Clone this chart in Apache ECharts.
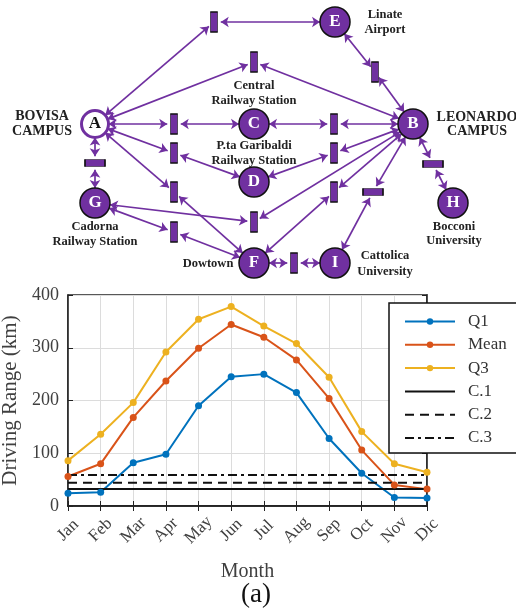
<!DOCTYPE html>
<html><head><meta charset="utf-8">
<script src="https://cdn.jsdelivr.net/npm/echarts@6/dist/echarts.min.js"></script>
<style>html,body{margin:0;padding:0;background:#fff}#c{width:516px;height:612px}</style>
</head><body><div id="c"></div>
<script>
// ---------- line chart data ----------
const months = ['Jan','Feb','Mar','Apr','May','Jun','Jul','Aug','Sep','Oct','Nov','Dic'];
const q1   = [24, 26, 82, 98, 190, 245, 250, 215, 128, 62, 16, 15];
const mean = [56, 80, 168, 237, 299, 344, 320, 277, 204, 106, 40, 32];
const q3   = [86, 136, 196, 292, 354, 378, 341, 308, 244, 141, 80, 64];
const c1   = [32, 32, 32, 32, 32, 32, 32, 32, 32, 32, 32, 32];
const c2   = [44, 44, 44, 44, 44, 44, 44, 44, 44, 44, 44, 44];
const c3   = [59, 59, 59, 59, 59, 59, 59, 59, 59, 59, 59, 59];
const seriesNames = ['Q1', 'Mean', 'Q3', 'C.1', 'C.2', 'C.3'];

// ---------- network data ----------
// places: name, x, y, hollow
const places = [
  ['A', 95, 124, true], ['B', 413, 124, false], ['C', 254, 124, false],
  ['D', 254, 182, false], ['E', 335, 22, false], ['F', 254, 263, false],
  ['G', 95, 203, false], ['H', 453, 203, false], ['I', 335, 263, false]
];
// transitions: name, x, y, orientation (v / h)
const transitions = [
  ['T1', 214, 22, 'v'], ['T2', 254, 62, 'v'], ['T3', 174, 124, 'v'], ['T4', 334, 124, 'v'],
  ['T5', 174, 153, 'v'], ['T6', 334, 153, 'v'], ['T7', 174, 192, 'v'], ['T8', 334, 192, 'v'],
  ['T9', 254, 222, 'v'], ['T10', 174, 232, 'v'], ['T11', 294, 263, 'v'], ['T12', 373, 192, 'h'],
  ['T13', 433, 164, 'h'], ['T14', 95, 163, 'h'], ['T15', 375, 72, 'v']
];
const arcs = [
  ['A','T1'],['T1','E'],['A','T2'],['T2','B'],['A','T3'],['T3','C'],['C','T4'],['T4','B'],
  ['A','T5'],['T5','D'],['D','T6'],['T6','B'],['A','T7'],['T7','F'],['B','T8'],['T8','F'],
  ['G','T9'],['T9','B'],['G','T10'],['T10','F'],['F','T11'],['T11','I'],['B','T12'],['T12','I'],
  ['B','T13'],['T13','H'],['A','T14'],['T14','G'],['E','T15'],['T15','B']
];
// text labels: text, x, y, size
const netLabels = [
  ['BOVISA', 42, 116, 14], ['CAMPUS', 42, 131, 14],
  ['LEONARDO', 477, 117, 14], ['CAMPUS', 477, 131, 14],
  ['Linate', 385, 15, 12.5], ['Airport', 385, 30, 12.5],
  ['Central', 254, 86, 12.5], ['Railway Station', 254, 101, 12.5],
  ['P.ta Garibaldi', 254, 146, 12.5], ['Railway Station', 254, 161, 12.5],
  ['Cadorna', 95, 227, 12.5], ['Railway Station', 95, 242, 12.5],
  ['Bocconi', 454, 227, 12.5], ['University', 454, 241, 12.5],
  ['Dowtown', 208, 264, 12.5],
  ['Cattolica', 385, 256, 12.5], ['University', 385, 272, 12.5]
];

const PURPLE = '#7030A0';
const SERIF = '"Liberation Serif", "Times New Roman", serif';

const nodes = [];
places.forEach(p => {
  nodes.push({
    name: p[0], value: [p[1], p[2]], symbol: 'circle', symbolSize: p[3] ? 27 : 30,
    itemStyle: p[3] ? {color: '#fff', borderColor: PURPLE, borderWidth: 3}
                    : {color: PURPLE, borderColor: '#111', borderWidth: 1.5},
    label: {show: true, position: 'inside', formatter: p[0], color: p[3] ? '#111' : '#fff',
            fontFamily: SERIF, fontWeight: 'bold', fontSize: 17}
  });
});
transitions.forEach(t => {
  nodes.push({
    name: t[0], value: [t[1], t[2]], symbol: 'rect',
    symbolSize: t[3] === 'v' ? [7, 20] : [20, 7],
    itemStyle: {color: PURPLE, borderColor: '#111', borderWidth: 1},
    label: {show: false}
  });
});
const links = arcs.map(a => ({source: a[0], target: a[1]}));

const dark = '#404040';
const lineSeries = (name, data, color, extra) => Object.assign({
  name, type: 'line', data, xAxisIndex: 0, yAxisIndex: 0,
  symbol: 'circle', symbolSize: 7, color,
  lineStyle: {width: 2, color}, itemStyle: {color},
  silent: true, animation: false, z: 3
}, extra || {});

const legendData = seriesNames.map((n, i) => i < 3 ? {name: n}
  : {name: n, itemStyle: {opacity: 0, color: 'rgba(0,0,0,0)', borderWidth: 0}});

const option = {
  animation: false,
  backgroundColor: '#fff',
  grid: [
    {left: 68, top: 295, width: 359, height: 211, show: true, borderColor: '#222', borderWidth: 1.5,
     backgroundColor: 'transparent', containLabel: false, outerBoundsMode: 'none'},
    {left: 0, top: 0, width: 516, height: 612, show: false, containLabel: false, outerBoundsMode: 'none'}
  ],
  xAxis: [
    {type: 'category', data: months, gridIndex: 0, boundaryGap: false,
     axisLine: {lineStyle: {color: '#222', width: 1.5}},
     axisTick: {inside: true, length: 5, alignWithLabel: true, lineStyle: {color: '#222'}},
     axisLabel: {rotate: 45, margin: 24, align: 'center', verticalAlign: 'middle', color: dark,
                 fontFamily: SERIF, fontSize: 17},
     splitLine: {show: true, lineStyle: {color: '#dcdcdc', width: 1}},
     name: 'Month', nameLocation: 'middle', nameGap: 56,
     nameTextStyle: {fontFamily: SERIF, fontSize: 20, color: dark}},
    {type: 'category', data: months, gridIndex: 0, boundaryGap: false, position: 'top',
     axisLine: {lineStyle: {color: '#222', width: 1.5}},
     axisTick: {inside: true, length: 5, lineStyle: {color: '#222'}},
     axisLabel: {show: false}, splitLine: {show: false}},
    {type: 'value', gridIndex: 1, min: 0, max: 516, show: false}
  ],
  yAxis: [
    {type: 'value', gridIndex: 0, min: 0, max: 400, interval: 100,
     axisLine: {show: true, lineStyle: {color: '#222', width: 1.5}},
     axisTick: {show: true, inside: true, length: 5, lineStyle: {color: '#222'}},
     axisLabel: {margin: 9, color: dark, fontFamily: SERIF, fontSize: 18},
     splitLine: {show: true, lineStyle: {color: '#dcdcdc', width: 1}},
     name: 'Driving Range (km)', nameLocation: 'middle', nameGap: 43, nameRotate: 90,
     nameTextStyle: {fontFamily: SERIF, fontSize: 21, color: dark}},
    {type: 'value', gridIndex: 0, min: 0, max: 400, interval: 100, position: 'right',
     axisLine: {show: true, lineStyle: {color: '#222', width: 1.5}},
     axisTick: {show: true, inside: true, length: 5, lineStyle: {color: '#222'}},
     axisLabel: {show: false}, splitLine: {show: false}},
    {type: 'value', gridIndex: 1, min: 0, max: 612, inverse: true, show: false}
  ],
  legend: {
    orient: 'vertical', left: 404, top: 313, padding: 0, z: 60,
    itemWidth: 50, itemHeight: 8, itemGap: 6.3,
    data: legendData,
    textStyle: {fontFamily: SERIF, fontSize: 17, color: '#333', padding: [0, 0, 0, 8]}
  },
  graphic: [
    {type: 'rect', shape: {x: 389, y: 303, width: 140, height: 150}, z: 50,
     style: {fill: '#fff', stroke: '#111', lineWidth: 1.5}},
    {type: 'text', x: 256, y: 595, z: 50,
     style: {text: '(a)', fontFamily: SERIF, fontSize: 27, fill: '#111', align: 'center', verticalAlign: 'middle'}}
  ].concat(netLabels.map(l => ({
    type: 'text', x: l[1], y: l[2], z: 50,
    style: {text: l[0], fontFamily: SERIF, fontWeight: 'bold', fontSize: l[3], fill: '#222',
            align: 'center', verticalAlign: 'middle'}
  }))),
  series: [
    lineSeries('Q1', q1, '#0072BD'),
    lineSeries('Mean', mean, '#D95319'),
    lineSeries('Q3', q3, '#EDB120'),
    lineSeries('C.1', c1, '#111', {symbol: 'none', lineStyle: {width: 2, color: '#111', type: 'solid'}}),
    lineSeries('C.2', c2, '#111', {symbol: 'none', lineStyle: {width: 2, color: '#111', type: [9, 6]}}),
    lineSeries('C.3', c3, '#111', {symbol: 'none', lineStyle: {width: 2, color: '#111', type: [9, 4, 3, 4]}}),
    {
      type: 'graph', layout: 'none', coordinateSystem: 'cartesian2d', xAxisIndex: 2, yAxisIndex: 2,
      data: nodes, links: links, silent: true, roam: false, animation: false,
      edgeSymbol: ['arrow', 'arrow'], edgeSymbolSize: 8,
      lineStyle: {color: PURPLE, width: 1.7, opacity: 1, curveness: 0},
      emphasis: {disabled: true}
    }
  ]
};
const chart = echarts.init(document.getElementById('c'), null, {renderer: 'canvas'});
chart.setOption(option);
</script>
</body></html>
